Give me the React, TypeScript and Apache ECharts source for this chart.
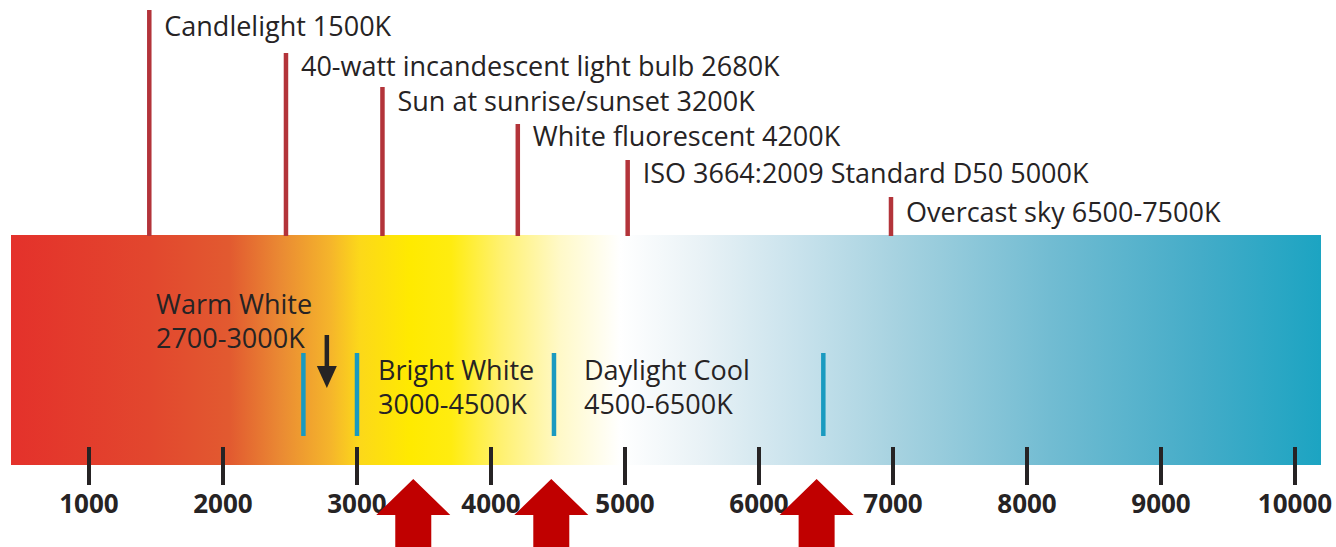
import React, { useEffect, useRef } from 'react';
import * as echarts from 'echarts';

// ---------- data ----------
const tickValues = [1000, 2000, 3000, 4000, 5000, 6000, 7000, 8000, 9000, 10000];
const scaleMin = 418;
const scaleMax = 10194;
const sourceNames = [
  'Candlelight 1500K',
  '40-watt incandescent light bulb 2680K',
  'Sun at sunrise/sunset 3200K',
  'White fluorescent 4200K',
  'ISO 3664:2009 Standard D50 5000K',
  'Overcast sky 6500-7500K',
];
const sourceKelvin = [1450, 2470, 3190, 4200, 5020, 6985];
const bandTitles = ['Warm White', 'Bright White', 'Daylight Cool'];
const bandRanges = ['2700-3000K', '3000-4500K', '4500-6500K'];
const bandLabelKelvin = [1500, 3157, 4694];
const dividerKelvin = [2600, 3000, 4470, 6480];
const warmArrowKelvin = [2775];
const highlightKelvin = [3420, 4450, 6430];

// ---------- layout & style ----------
const FONT = '"Open Sans", "Noto Sans", sans-serif';
const TEXT = '#262324';
const ROW_TOP = [10, 53, 87, 124, 160, 197];
const ROW_TEXT = [25, 65, 100, 135, 172, 211];
const BAND_TITLE_Y = [303, 369, 369];
const BAND_RANGE_Y = [337, 403, 403];
const GRADIENT = [
  [0, '#e4312b'],
  [0.106, '#e2472e'],
  [0.167, '#e25a30'],
  [0.206, '#ea8a33'],
  [0.244, '#f5b52b'],
  [0.266, '#fcd81a'],
  [0.305, '#ffea00'],
  [0.336, '#ffec10'],
  [0.374, '#fff170'],
  [0.419, '#fff9c8'],
  [0.465, '#ffffff'],
  [0.526, '#e9f2f6'],
  [0.602, '#c8e2ec'],
  [0.677, '#a6d2e0'],
  [0.793, '#72bcd2'],
  [0.908, '#44acc8'],
  [1, '#1ca4c2'],
];

export default function App() {
  const ref = useRef<HTMLDivElement>(null);
  useEffect(() => {
    if (!ref.current) return;
    const chart = echarts.init(ref.current, undefined, { renderer: 'svg' });
    const textStyle = (text: string) => ({
      text, fill: TEXT, fontSize: 27, fontFamily: FONT, verticalAlign: 'middle', align: 'left',
    });
    const option: any = {
      animation: false,
      grid: { left: 11, right: 15, top: 235, bottom: 82 },
      xAxis: {
        type: 'value',
        min: scaleMin,
        max: scaleMax,
        offset: -18,
        z: 10,
        axisLine: { show: false },
        splitLine: { show: false },
        axisTick: {
          show: true,
          customValues: tickValues,
          length: 38,
          lineStyle: { color: TEXT, width: 4 },
        },
        axisLabel: {
          show: true,
          customValues: tickValues,
          formatter: (v: number) => String(v),
          margin: 56,
          verticalAlign: 'middle',
          fontSize: 26,
          fontWeight: 'bold',
          fontFamily: FONT,
          color: TEXT,
        },
      },
      yAxis: { type: 'value', min: 0, max: 1, show: false, splitLine: { show: false } },
      series: [
        {
          type: 'custom',
          z: 1,
          data: [[scaleMin, scaleMax]],
          renderItem: (params: any, api: any) => {
            const p0 = api.coord([api.value(0), 1]);
            const p1 = api.coord([api.value(1), 0]);
            return {
              type: 'rect',
              shape: { x: p0[0], y: p0[1], width: p1[0] - p0[0], height: p1[1] - p0[1] },
              style: {
                fill: {
                  type: 'linear', x: 0, y: 0, x2: 1, y2: 0,
                  colorStops: GRADIENT.map(([o, c]) => ({ offset: o, color: c })),
                },
              },
            };
          },
        },
        {
          type: 'custom',
          z: 5,
          data: sourceKelvin.map((k) => [k, 1]),
          renderItem: (params: any, api: any) => {
            const i = params.dataIndex;
            const p = api.coord([api.value(0), 1]);
            return {
              type: 'group',
              children: [
                { type: 'line', shape: { x1: p[0], y1: ROW_TOP[i], x2: p[0], y2: p[1] + 1 }, style: { stroke: '#b3343a', lineWidth: 4.5 } },
                { type: 'text', x: p[0] + 15, y: ROW_TEXT[i], style: textStyle(sourceNames[i]) },
              ],
            };
          },
        },
        {
          type: 'custom',
          z: 5,
          data: dividerKelvin.map((k) => [k, 0]),
          renderItem: (params: any, api: any) => {
            const p = api.coord([api.value(0), 0]);
            return { type: 'line', shape: { x1: p[0], y1: 353, x2: p[0], y2: 436 }, style: { stroke: '#1a9ac0', lineWidth: 4.5 } };
          },
        },
        {
          type: 'custom',
          z: 5,
          data: bandLabelKelvin.map((k) => [k, 0]),
          renderItem: (params: any, api: any) => {
            const i = params.dataIndex;
            const p = api.coord([api.value(0), 0]);
            return {
              type: 'group',
              children: [
                { type: 'text', x: p[0], y: BAND_TITLE_Y[i], style: textStyle(bandTitles[i]) },
                { type: 'text', x: p[0], y: BAND_RANGE_Y[i], style: textStyle(bandRanges[i]) },
              ],
            };
          },
        },
        {
          type: 'custom',
          z: 5,
          data: warmArrowKelvin.map((k) => [k, 0]),
          renderItem: (params: any, api: any) => {
            const x = api.coord([api.value(0), 0])[0];
            return {
              type: 'group',
              children: [
                { type: 'line', shape: { x1: x, y1: 335, x2: x, y2: 370 }, style: { stroke: TEXT, lineWidth: 4.5 } },
                { type: 'polygon', shape: { points: [[x - 10, 366], [x + 10, 366], [x, 388]] }, style: { fill: TEXT } },
              ],
            };
          },
        },
        {
          type: 'custom',
          z: 20,
          data: highlightKelvin.map((k) => [k, 0]),
          renderItem: (params: any, api: any) => {
            const x = api.coord([api.value(0), 0])[0];
            return {
              type: 'polygon',
              z2: 100,
              shape: {
                points: [
                  [x, 479], [x + 37, 515], [x + 18, 515], [x + 18, 560],
                  [x - 18, 560], [x - 18, 515], [x - 37, 515],
                ],
              },
              style: { fill: '#c00000' },
            };
          },
        },
      ],
    };
    chart.setOption(option);
    return () => chart.dispose();
  }, []);
  return (
    <div
      ref={ref}
      style={{ position: 'fixed', left: 0, top: 0, width: 1336, height: 547, background: '#ffffff' }}
    />
  );
}
